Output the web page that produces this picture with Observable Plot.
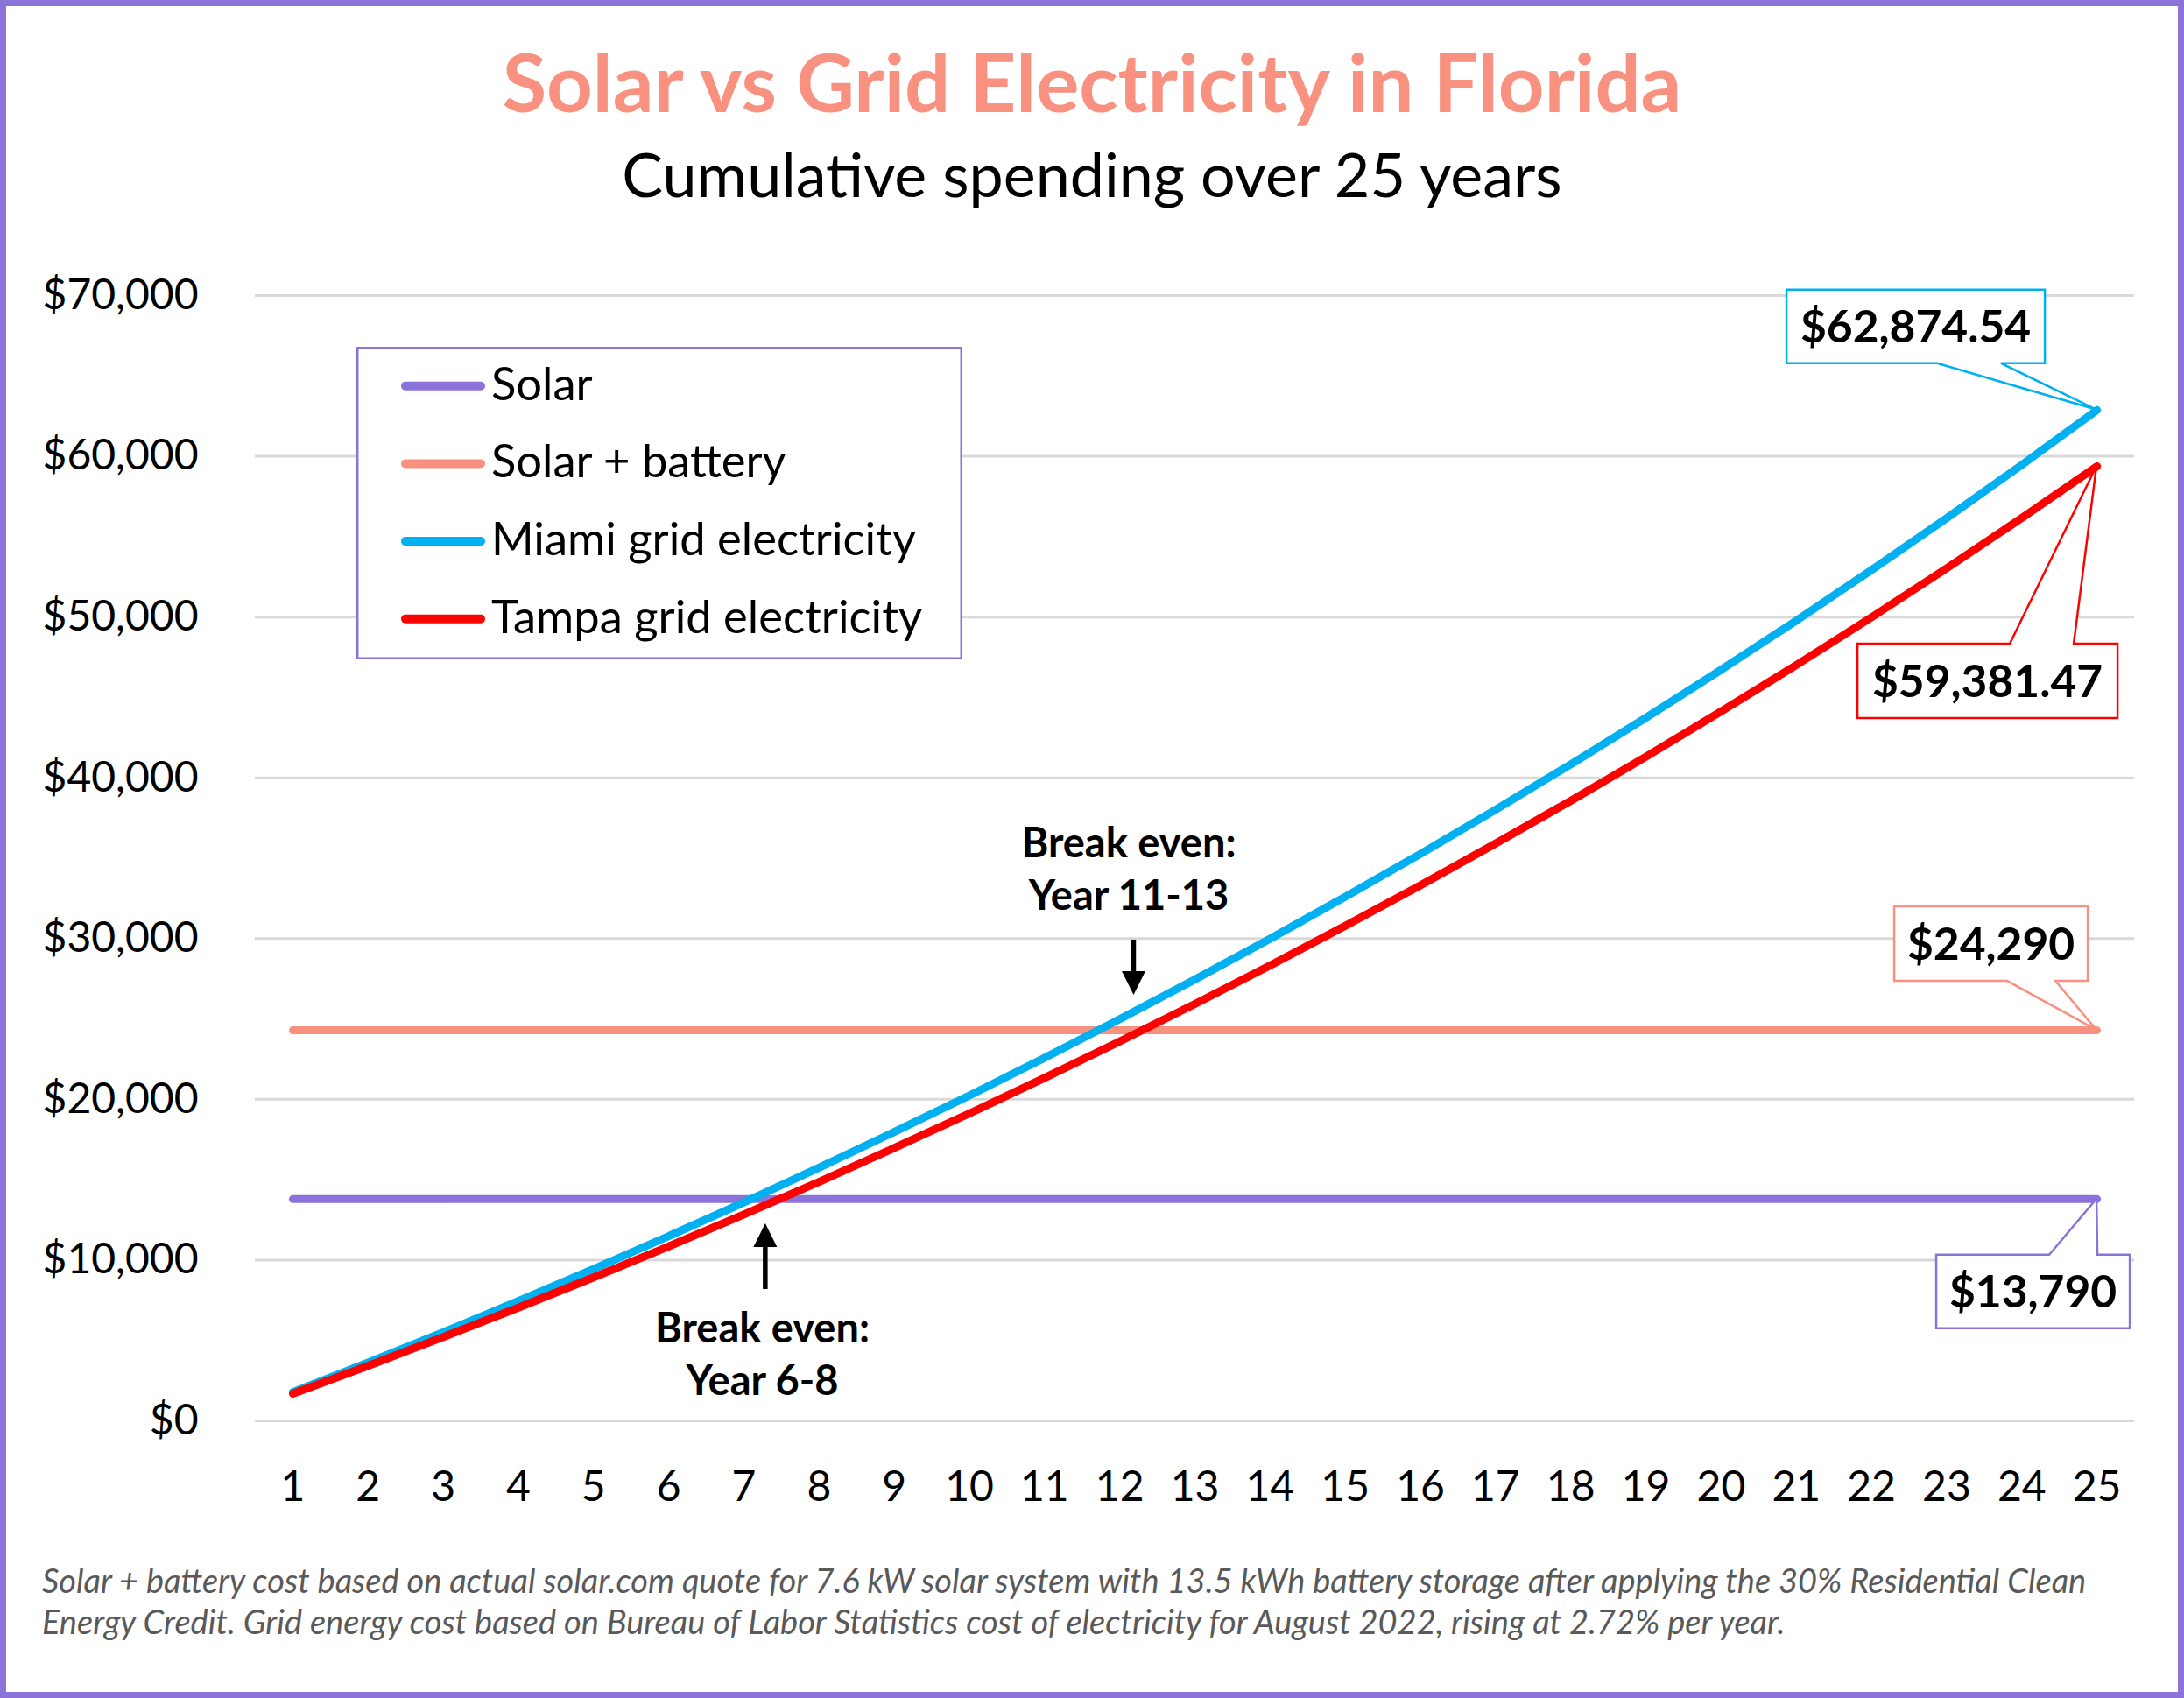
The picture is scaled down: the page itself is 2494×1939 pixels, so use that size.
<!DOCTYPE html>
<html><head><meta charset="utf-8">
<script src="https://cdn.jsdelivr.net/npm/d3@7"></script>
<script src="https://cdn.jsdelivr.net/npm/@observablehq/plot@0.6"></script>
<style>
html,body{margin:0;padding:0;background:#fff;}
#page{position:relative;width:2494px;height:1939px;overflow:hidden;background:#fff;font-family:Lato,sans-serif;}
.abs{position:absolute;}
#title{left:0;width:2494px;top:38px;text-align:center;font-weight:700;font-size:92px;line-height:1.2;color:#F8917F;white-space:nowrap;}
#subtitle{left:0;width:2494px;top:156px;text-align:center;font-size:70px;line-height:1.2;color:#000;white-space:nowrap;}
#chart{left:0;top:290px;}
#caption{left:48px;top:1781px;font-style:italic;font-size:38px;line-height:47px;color:#595959;white-space:nowrap;}
#legend{left:407px;top:396px;}
#frame{left:0;top:0;width:2494px;height:1939px;box-sizing:border-box;border:7px solid #8B73D9;pointer-events:none;}
</style></head>
<body>
<div id="page">
  <div id="title" class="abs">Solar vs Grid Electricity in Florida</div>
  <div id="subtitle" class="abs">Cumulative spending over 25 years</div>
  <div id="chart" class="abs"></div>
  <div id="legend" class="abs"></div>
  <div id="caption" class="abs">Solar + battery cost based on actual solar.com quote for 7.6 kW solar system with 13.5 kWh battery storage after applying the 30% Residential Clean<br>Energy Credit. Grid energy cost based on Bureau of Labor Statistics cost of electricity for August 2022, rising at 2.72% per year.</div>
  <div id="frame" class="abs"></div>
</div>
<script>
// ---- data ----
const years = [1,2,3,4,5,6,7,8,9,10,11,12,13,14,15,16,17,18,19,20,21,22,23,24,25];
const yTicks = [0,10000,20000,30000,40000,50000,60000,70000];
const seriesNames = ["Solar","Solar + battery","Miami grid electricity","Tampa grid electricity"];
const seriesColors = ["#8B73D9","#F8917F","#00B0F0","#FF0000"];
const solarCost = 13790;
const solarBatteryCost = 24290;
const miami = [1790,3630,5510,7450,9440,11490,13590,15750,17970,20240,22580,24990,27460,29990,32600,35270,38020,40840,43740,46720,49780,52920,56150,59470,62874.54];
const tampa = [1690,3420,5210,7040,8920,10850,12840,14870,16970,19120,21330,23600,25930,28330,30790,33310,35910,38570,41310,44130,47010,49980,53030,56160,59381.47];
const calloutLabels = ["$13,790","$24,290","$62,874.54","$59,381.47"];
const breakEvenTexts = [["Break even:","Year 11-13"],["Break even:","Year 6-8"]];

// ---- build table ----
const seriesValues = [years.map(() => solarCost), years.map(() => solarBatteryCost), miami, tampa];
const rows = [];
seriesNames.forEach((name, si) => years.forEach((yr, i) => rows.push({series: name, year: yr, value: seriesValues[si][i]})));

// annotation placement (data units)
const notes = [
  {year: 12.12, y1: 35900, y2: 32580, arrowYear: 12.19, tail: 29910, tip: 26475},
  {year: 7.245, y1: 5720, y2: 2400, arrowYear: 7.29, tail: 8170, tip: 12260}
];
const noteRows = [];
notes.forEach((n, i) => { noteRows.push({year: n.year, value: n.y1, text: breakEvenTexts[i][0]}); noteRows.push({year: n.year, value: n.y2, text: breakEvenTexts[i][1]}); });

const fmt = d3.format(",");
const chart = Plot.plot({
  width: 2494,
  height: 1470,
  marginTop: 47,
  marginBottom: 138,
  marginLeft: 291,
  marginRight: 57,
  style: {fontFamily: "Lato, sans-serif", fontSize: "48px", color: "#000", background: "none", overflow: "visible"},
  x: {type: "linear", domain: [0.5, 25.5], ticks: years, tickFormat: d => String(d), tickSize: 0, tickPadding: 57, label: null},
  y: {domain: [0, 70000], ticks: yTicks, tickFormat: d => "$" + fmt(d), tickSize: 0, tickPadding: 65, label: null},
  color: {domain: seriesNames, range: seriesColors},
  marks: [
    Plot.ruleY(yTicks, {stroke: "#D9D9D9", strokeWidth: 3}),
    Plot.line(rows, {x: "year", y: "value", z: "series", stroke: "series", strokeWidth: 9, strokeLinecap: "round", strokeLinejoin: "round"}),
    Plot.text(noteRows, {x: "year", y: "value", text: "text", fontWeight: 700, fontSize: 47, fill: "#000", textAnchor: "middle"})
  ]
});
document.getElementById("chart").appendChild(chart);

// ---- post-render annotations via scales ----
const xs = chart.scale("x"), ys = chart.scale("y");
const X = v => xs.apply(v), Y = v => ys.apply(v);
const svg = d3.select(chart);
const g = svg.append("g");

// arrows
notes.forEach(n => {
  const px = X(n.arrowYear), pTip = Y(n.tip), pTail = Y(n.tail);
  const dir = Math.sign(pTip - pTail);
  const headLen = 27, headW = 27;
  g.append("line").attr("x1", px).attr("x2", px).attr("y1", pTail).attr("y2", pTip - dir * (headLen - 2))
    .attr("stroke", "#000").attr("stroke-width", 5.5);
  g.append("path").attr("d", `M${px},${pTip}L${px - headW/2},${pTip - dir*headLen}L${px + headW/2},${pTip - dir*headLen}Z`).attr("fill", "#000");
});

// callouts: anchored to the last point of each series, offsets in pixels
const calloutStyle = [
  {box: [-183, 38, 64, 148], wedge: [-54, 1]},       // Solar (box below)
  {box: [-231, -10, -141, -56], wedge: [-102, -47]}, // Solar + battery (box above)
  {box: [-354, -59, -137, -53], wedge: [-182, -109]},// Miami (box above)
  {box: [-273, 24, 203, 288], wedge: [-99, -26]}     // Tampa (box below)
];
seriesNames.forEach((name, si) => {
  const ax = X(years[years.length - 1]);
  const ay = Y(seriesValues[si][seriesValues[si].length - 1]);
  const s = calloutStyle[si];
  const [l, r, t, b] = [ax + s.box[0], ax + s.box[1], ay + s.box[2], ay + s.box[3]];
  const [w1, w2] = [ax + s.wedge[0], ax + s.wedge[1]];
  let d;
  if (s.box[3] < 0) {
    d = `M${l},${t}L${r},${t}L${r},${b}L${w2},${b}L${ax},${ay}L${w1},${b}L${l},${b}Z`;
  } else {
    d = `M${l},${t}L${w1},${t}L${ax},${ay}L${w2},${t}L${r},${t}L${r},${b}L${l},${b}Z`;
  }
  g.append("path").attr("d", d).attr("fill", "#fff").attr("stroke", seriesColors[si]).attr("stroke-width", 2.5).attr("stroke-linejoin", "miter");
  g.append("text").attr("x", (l + r) / 2).attr("y", (t + b) / 2).attr("dy", "0.36em")
    .attr("text-anchor", "middle").attr("font-weight", 700).attr("font-size", 51.5).attr("fill", "#000").text(calloutLabels[si]);
});

// ---- legend ----
const lg = d3.select("#legend").append("svg").attr("width", 692).attr("height", 357).style("overflow", "visible");
lg.append("rect").attr("x", 1.25).attr("y", 1.25).attr("width", 689.5).attr("height", 354.5).attr("fill", "#fff").attr("stroke", "#8B73D9").attr("stroke-width", 2.5);
seriesNames.forEach((name, i) => {
  const cy = 44.7 + i * 88.7;
  lg.append("line").attr("x1", 56).attr("x2", 142).attr("y1", cy).attr("y2", cy)
    .attr("stroke", seriesColors[i]).attr("stroke-width", 10).attr("stroke-linecap", "round");
  lg.append("text").attr("x", 154).attr("y", cy + 16).attr("font-family", "Lato, sans-serif").attr("font-size", 52.5).attr("fill", "#000").text(name);
});
</script>
</body></html>
